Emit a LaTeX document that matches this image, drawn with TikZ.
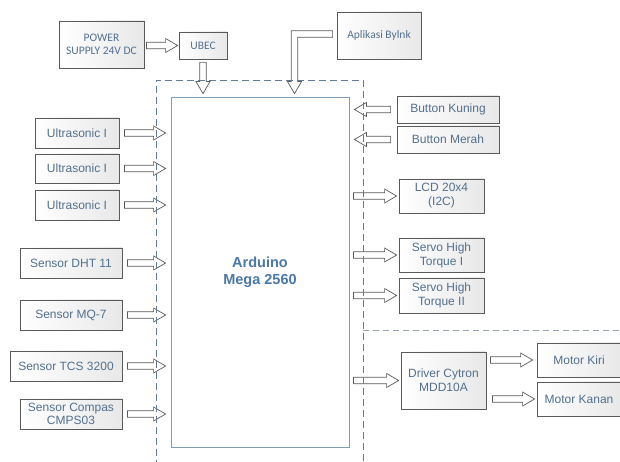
\documentclass[tikz,border=0pt]{standalone}
\usepackage{fontspec}
\setmainfont{Liberation Sans}
\newfontfamily\calibri{Carlito}
\usetikzlibrary{calc,shadows}
\definecolor{Frame}{HTML}{5A5A5A}
\definecolor{Label}{HTML}{52708F}
\definecolor{Board}{HTML}{7F9DB9}
\definecolor{BoardText}{HTML}{4A78A8}
\definecolor{Zone}{HTML}{5F7C9C}
\definecolor{ZoneGray}{HTML}{98A6B8}

\begin{document}
\begin{tikzpicture}[x=1pt,y=1pt,
  unit/.style={draw=Frame,line width=0.8pt,left color=white,right color=black!9,text=Label,font=\fontsize{12}{14}\selectfont,align=center,inner sep=1pt,minimum height=30pt,drop shadow={shadow xshift=0.8pt,shadow yshift=-0.8pt,opacity=0.35}},
  board/.style={draw=Board,line width=0.8pt,fill=white,text=BoardText,font=\fontsize{14.5}{17}\selectfont\bfseries,align=center,minimum width=178pt,minimum height=350pt},
  zone/.style={draw=Zone,line width=0.6pt,dash pattern=on 7pt off 4pt},
  gap in/.store in=\gapin, gap out/.store in=\gapout,
  gap in=5pt, gap out=5pt,
  fatarrow/.style={draw=Frame,fill=white,line width=0.7pt,line join=miter,
    to path={let \p1=($(\tikztostart)!\gapin!(\tikztotarget)$),
      \p2=($(\tikztotarget)!\gapout!(\tikztostart)$),
      \p3=($(\p2)!12pt!(\p1)$) in
      ($(\p1)!3.3pt!90:(\p2)$) -- ($(\p3)!3.3pt!90:(\p2)$) -- ($(\p3)!7pt!90:(\p2)$) -- (\p2)
      -- ($(\p3)!7pt!-90:(\p2)$) -- ($(\p3)!3.3pt!-90:(\p2)$) -- ($(\p1)!3.3pt!-90:(\p2)$) -- cycle}}
]
\useasboundingbox (0,0) rectangle (620,462);
% top row
\node[unit,minimum width=85pt,minimum height=47pt,font=\calibri\fontsize{11.5}{13.5}\selectfont] (ps) at (101.5,417.5) {POWER\\SUPPLY 24V DC};
\node[unit,minimum width=48pt,minimum height=27pt,font=\calibri\fontsize{11.5}{13.5}\selectfont] (ubec) at (203,416.5) {UBEC};
\node[unit,minimum width=84pt,minimum height=47pt,font=\calibri\fontsize{11.5}{13.5}\selectfont] (apl) at (379,426.5) {Aplikasi Bylnk};
% controller
\node[board] (ard) at (260,190) {Arduino\\Mega 2560};
% inputs
\node[unit,minimum width=84pt] (u1) at (77,329) {Ultrasonic I};
\node[unit,minimum width=84pt,minimum height=29pt] (u2) at (77,293.5) {Ultrasonic I};
\node[unit,minimum width=84pt] (u3) at (77,257) {Ultrasonic I};
\node[unit,minimum width=102pt] (dht) at (71,199) {Sensor DHT 11};
\node[unit,minimum width=102pt] (mq) at (71,147) {Sensor MQ-7};
\node[unit,minimum width=112pt] (tcs) at (66,96) {Sensor TCS 3200};
\node[unit,minimum width=102pt,font=\fontsize{12}{13.3}\selectfont] (cmp) at (71,48) {Sensor Compas\\CMPS03};
\node[unit,minimum width=102pt,minimum height=27pt] (bk) at (448,352.5) {Button Kuning};
\node[unit,minimum width=102pt,minimum height=27pt] (bm) at (448,322.5) {Button Merah};
% outputs
\node[unit,minimum width=85pt,minimum height=34pt] (lcd) at (441.5,266) {LCD 20x4\\(I2C)};
\node[unit,minimum width=85pt,minimum height=34pt] (sv1) at (441.5,207) {Servo High\\Torque I};
\node[unit,minimum width=85pt,minimum height=35pt] (sv2) at (441.5,166.5) {Servo High\\Torque II};
\node[unit,minimum width=85pt,minimum height=57pt] (drv) at (443.5,81.5) {Driver Cytron\\MDD10A};
\node[unit,minimum width=84pt,minimum height=34pt] (mk) at (579,102) {Motor Kiri};
\node[unit,minimum width=84pt,minimum height=34pt] (mkn) at (579,63) {Motor Kanan};
% block arrows
\draw[fatarrow,gap in=2pt,gap out=1pt] (ubec.west -| ps.east) to (ubec.west);
\draw[fatarrow,gap in=3pt,gap out=3pt] (ubec.south) to (ubec.south |- ard.north);
\foreach \s in {u1,u2,u3,dht,mq,tcs,cmp}
  \draw[fatarrow] (\s.east) to (\s.east -| ard.west);
\foreach \s in {bk,bm}
  \draw[fatarrow,gap in=6pt] (\s.west) to (\s.west -| ard.east);
\foreach \s in {lcd,sv1,sv2,drv}
  \draw[fatarrow,gap in=4pt,gap out=2pt] (\s.west -| ard.east) to (\s.west);
\draw[fatarrow,gap in=4pt,gap out=4pt] (mk.west -| drv.east) to (mk.west);
\draw[fatarrow,gap in=6pt,gap out=2pt] (mkn.west -| drv.east) to (mkn.west);
\coordinate (aptip) at ($(ard.north)+(34.5,3)$);
\draw[draw=Frame,fill=white,line width=0.7pt,line join=miter]
  let \p1=($(apl.west)+(-4,1.5)$), \p2=(aptip) in
  (\x1,\y1+3.3pt) -- (\x2-3.3pt,\y1+3.3pt) -- (\x2-3.3pt,\y2+12pt) -- (\x2-7pt,\y2+12pt) -- (\p2)
  -- (\x2+7pt,\y2+12pt) -- (\x2+3.3pt,\y2+12pt) -- (\x2+3.3pt,\y1-3.3pt) -- (\x1,\y1-3.3pt) -- cycle;
% dashed zones
\draw[zone] (156,-5) |- (363,382) -- (363,-5);
\draw[zone,draw=ZoneGray,dash pattern=on 6pt off 4pt] (363,132) -- (625,132);
\end{tikzpicture}
\end{document}
